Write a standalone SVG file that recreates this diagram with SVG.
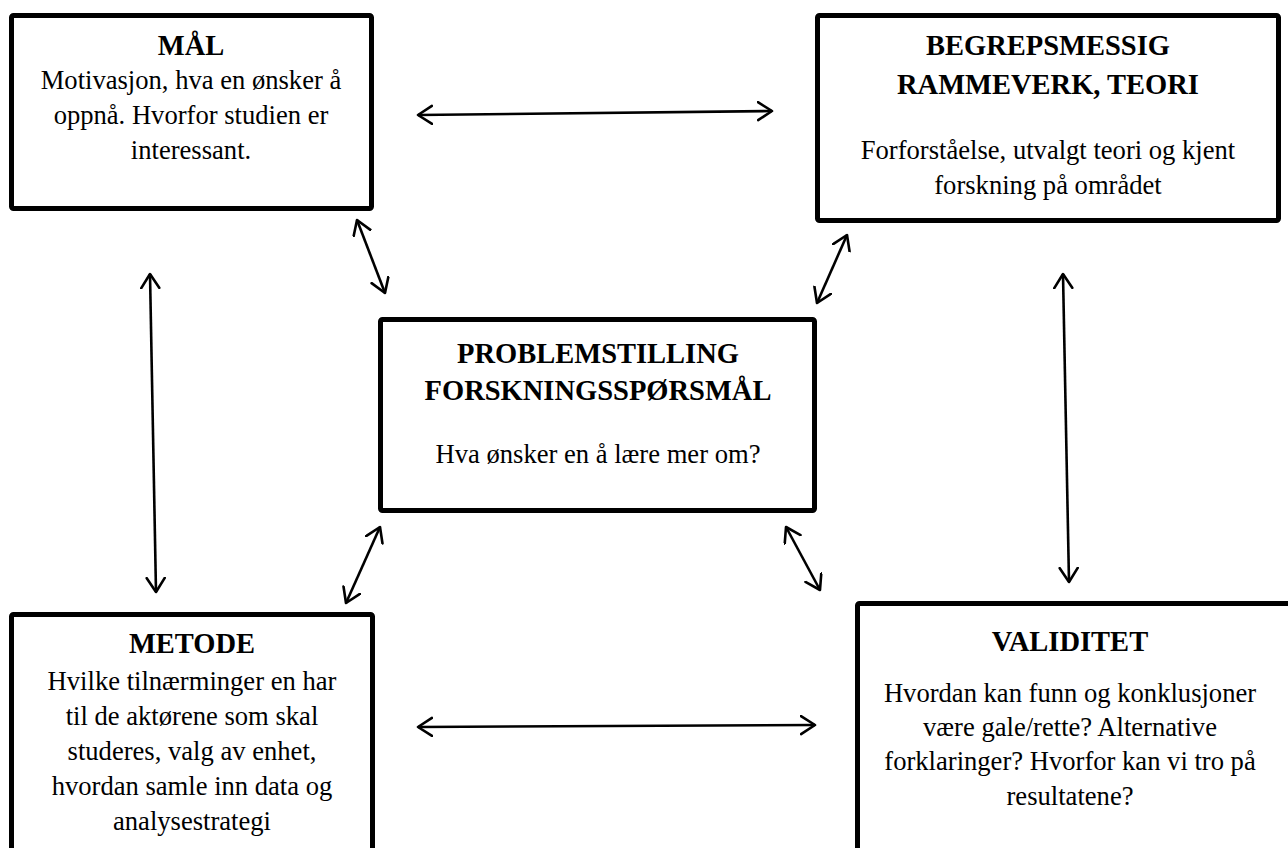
<svg xmlns="http://www.w3.org/2000/svg" width="1288" height="848" viewBox="0 0 1288 848">
<style>
.box{fill:#fff;stroke:#000;stroke-width:5}
.t{font-family:"Liberation Serif","Times New Roman",serif;font-size:28.5px;font-weight:bold;text-anchor:middle;fill:#000}
.b{font-family:"Liberation Serif","Times New Roman",serif;font-size:26.6px;text-anchor:middle;fill:#000}
.c{stroke:#000;stroke-width:2.6;fill:none;marker-start:url(#ah);marker-end:url(#ah)}
</style>
<defs>
<marker id="ah" markerUnits="userSpaceOnUse" markerWidth="20" markerHeight="22" refX="15" refY="10" orient="auto-start-reverse" viewBox="0 0 20 22">
<path d="M1,1 L15,10 L1,19" fill="none" stroke="#000" stroke-width="2.6" stroke-linecap="round" stroke-linejoin="round"/>
</marker>
</defs>
<rect width="1288" height="848" fill="#fff"/>
<g id="connectors">
<line class="c" x1="418" y1="115" x2="772" y2="111"/>
<line class="c" x1="418" y1="727" x2="815" y2="725"/>
<line class="c" x1="150" y1="274" x2="156" y2="592"/>
<line class="c" x1="1063" y1="274" x2="1069" y2="582"/>
<line class="c" x1="357" y1="220" x2="385" y2="293"/>
<line class="c" x1="847" y1="235" x2="817" y2="303"/>
<line class="c" x1="380" y1="527" x2="346" y2="603"/>
<line class="c" x1="786" y1="527" x2="820" y2="590"/>
</g>
<g id="maal">
<rect class="box" x="11.5" y="15.5" width="360" height="193" rx="2"/>
<text class="t" x="191" y="55">MÅL</text>
<text class="b" x="191" y="89">Motivasjon, hva en ønsker å</text>
<text class="b" x="191" y="124">oppnå. Hvorfor studien er</text>
<text class="b" x="191" y="159">interessant.</text>
</g>
<g id="teori">
<rect class="box" x="817.5" y="15.5" width="461" height="205" rx="2"/>
<text class="t" x="1048" y="55">BEGREPSMESSIG</text>
<text class="t" x="1048" y="94">RAMMEVERK, TEORI</text>
<text class="b" x="1048" y="159">Forforståelse, utvalgt teori og kjent</text>
<text class="b" x="1048" y="194">forskning på området</text>
</g>
<g id="problemstilling">
<rect class="box" x="380.5" y="319.5" width="434" height="191" rx="2"/>
<text class="t" x="598" y="363">PROBLEMSTILLING</text>
<text class="t" x="598" y="400">FORSKNINGSSPØRSMÅL</text>
<text class="b" x="598" y="463">Hva ønsker en å lære mer om?</text>
</g>
<g id="metode">
<rect class="box" x="11.5" y="614.5" width="361" height="260" rx="2"/>
<text class="t" x="192" y="653">METODE</text>
<text class="b" x="192" y="690">Hvilke tilnærminger en har</text>
<text class="b" x="192" y="725">til de aktørene som skal</text>
<text class="b" x="192" y="760">studeres, valg av enhet,</text>
<text class="b" x="192" y="795">hvordan samle inn data og</text>
<text class="b" x="192" y="830">analysestrategi</text>
</g>
<g id="validitet">
<rect class="box" x="857.5" y="603.5" width="460" height="270" rx="2"/>
<text class="t" x="1070" y="651">VALIDITET</text>
<text class="b" x="1070" y="702">Hvordan kan funn og konklusjoner</text>
<text class="b" x="1070" y="736">være gale/rette? Alternative</text>
<text class="b" x="1070" y="770">forklaringer? Hvorfor kan vi tro på</text>
<text class="b" x="1070" y="805">resultatene?</text>
</g>
</svg>
